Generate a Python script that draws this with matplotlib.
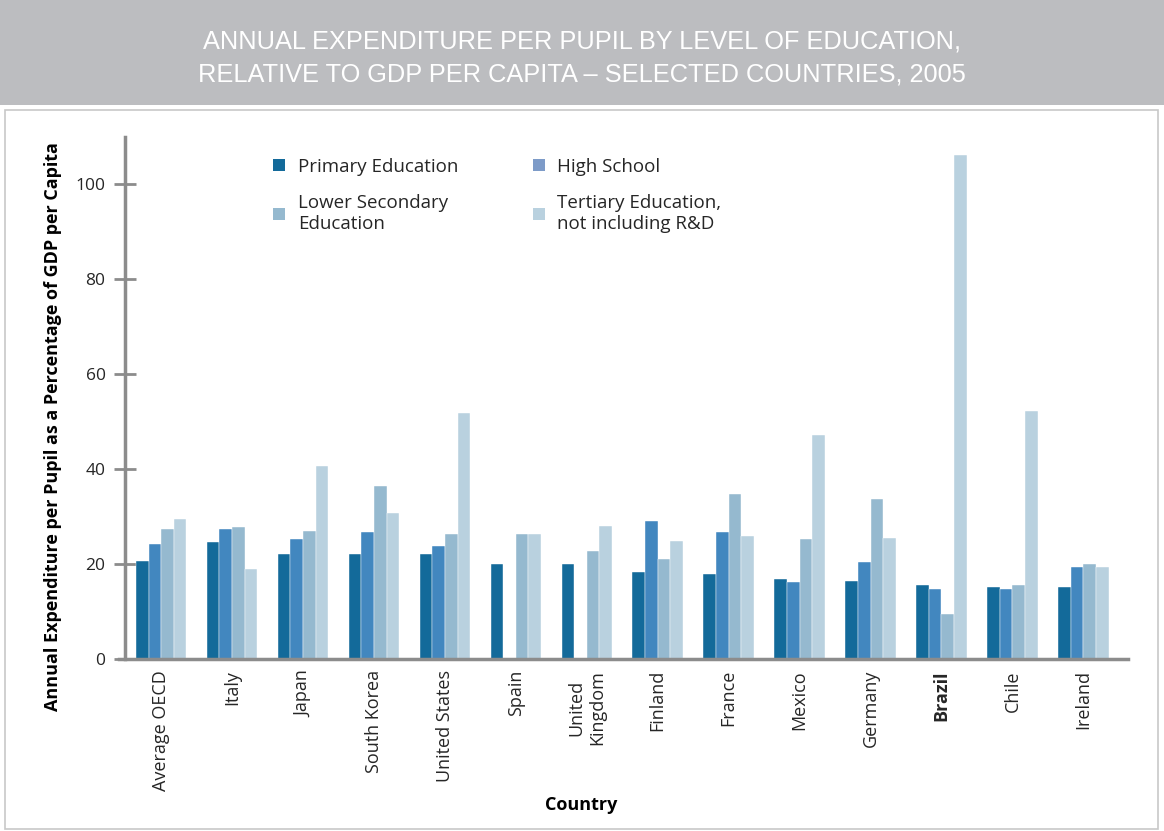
import matplotlib

matplotlib.use("Agg")
import matplotlib.pyplot as plt
import numpy as np
from matplotlib.patches import Patch, Rectangle

countries = [
    "Average OECD", "Italy", "Japan", "South Korea", "United States", "Spain",
    "United\nKingdom", "Finland", "France", "Mexico", "Germany", "Brazil",
    "Chile", "Ireland",
]
series_names = [
    "Primary Education", "High School",
    "Lower Secondary\nEducation", "Tertiary Education,\nnot including R&D",
]
primary = [20.7, 24.6, 22.1, 22.1, 22.1, 20.0, 20.0, 18.3, 17.9, 16.9, 16.5, 15.5, 15.1, 15.1]
high_school = [24.3, 27.4, 25.3, 26.8, 23.8, np.nan, np.nan, 29.1, 26.8, 16.2, 20.5, 14.8, 14.8, 19.4]
lower_secondary = [27.4, 27.8, 27.0, 36.5, 26.3, 26.3, 22.8, 21.1, 34.7, 25.2, 33.7, 9.5, 15.5, 20.0]
tertiary = [29.5, 19.0, 40.6, 30.8, 51.9, 26.3, 28.1, 24.9, 25.9, 47.3, 25.6, 106.2, 52.2, 19.3]

BAR_COLORS = ["#136a9a", "#4287bf", "#95b9cf", "#b9d1df"]
LEGEND_COLORS = ["#136a9a", "#7d9bc8", "#95b9cf", "#b9d1df"]
SPINE = "#8c8c8c"
TEXT = "#262626"
FONT = ["Open Sans", "DejaVu Sans"]

plt.rcParams["font.family"] = FONT
plt.rcParams["text.color"] = TEXT

fig = plt.figure(figsize=(11.64, 8.31), dpi=100)

# title banner and frame
fig.patches.append(Rectangle((0, 1 - 105 / 831), 1, 105 / 831, transform=fig.transFigure,
                             facecolor="#bcbdc0", edgecolor="none", zorder=0))
fig.patches.append(Rectangle((5 / 1164, 2 / 831), 1153 / 1164, (831 - 112) / 831,
                             transform=fig.transFigure, facecolor="none",
                             edgecolor="#c8c8c8", linewidth=1.2, zorder=0))
fig.text(0.5, 1 - 58 / 831,
         "ANNUAL EXPENDITURE PER PUPIL BY LEVEL OF EDUCATION,\n"
         "RELATIVE TO GDP PER CAPITA \u2013 SELECTED COUNTRIES, 2005",
         ha="center", va="center", color="white", fontsize=18.3,
         family=["Liberation Sans Narrow", "Liberation Sans", "DejaVu Sans"],
         linespacing=1.5)

ax = fig.add_axes([125 / 1164, 1 - 659 / 831, (1128 - 125) / 1164, (659 - 137) / 831])

x = np.arange(len(countries))
width = 0.178
all_series = [primary, high_school, lower_secondary, tertiary]
for i, vals in enumerate(all_series):
    ax.bar(x + (i - 1.5) * width, vals, width, color=BAR_COLORS[i],
           edgecolor="white", linewidth=0.3, zorder=2)

ax.set_xlim(-0.51, 13.63)
ax.set_ylim(0, 110)
ax.set_yticks(range(0, 101, 20))
ax.set_xticks(x)
ax.set_xticklabels(countries, rotation=90, fontsize=13, va="top", ha="center",
                   multialignment="center")
for lab in ax.get_xticklabels():
    if lab.get_text() == "Brazil":
        lab.set_fontweight("bold")
ax.tick_params(axis="x", length=0, pad=8, labelcolor=TEXT)
ax.tick_params(axis="y", direction="inout", length=16, width=2, color=SPINE,
               labelsize=12.5, pad=6, labelcolor=TEXT)

for side in ["top", "right"]:
    ax.spines[side].set_visible(False)
for side in ["left", "bottom"]:
    ax.spines[side].set_color(SPINE)
    ax.spines[side].set_linewidth(2.5)
ax.spines["bottom"].set_bounds(-0.6, 13.63)
ax.spines["bottom"].set_clip_on(False)

ax.set_ylabel("Annual Expenditure per Pupil as a Percentage of GDP per Capita",
              fontsize=13, fontweight="bold")
ax.yaxis.set_label_coords(-0.063, 0.446)
ax.set_xlabel("Country", fontsize=13, fontweight="bold")
ax.xaxis.set_label_coords(0.455, -0.262)

# legend fills column by column, so order the handles to read row by row
order = [0, 2, 1, 3]
handles = [Patch(facecolor=LEGEND_COLORS[k], edgecolor="none") for k in order]
labels = [series_names[k] for k in order]
ax.legend(handles, labels, ncol=2, frameon=False, fontsize=13.5,
          loc="upper left", bbox_to_anchor=(0.131, 0.993),
          handlelength=0.65, handleheight=0.65, handletextpad=0.65,
          columnspacing=4.0, labelspacing=1.0)

fig.savefig("out.png", dpi=100)
